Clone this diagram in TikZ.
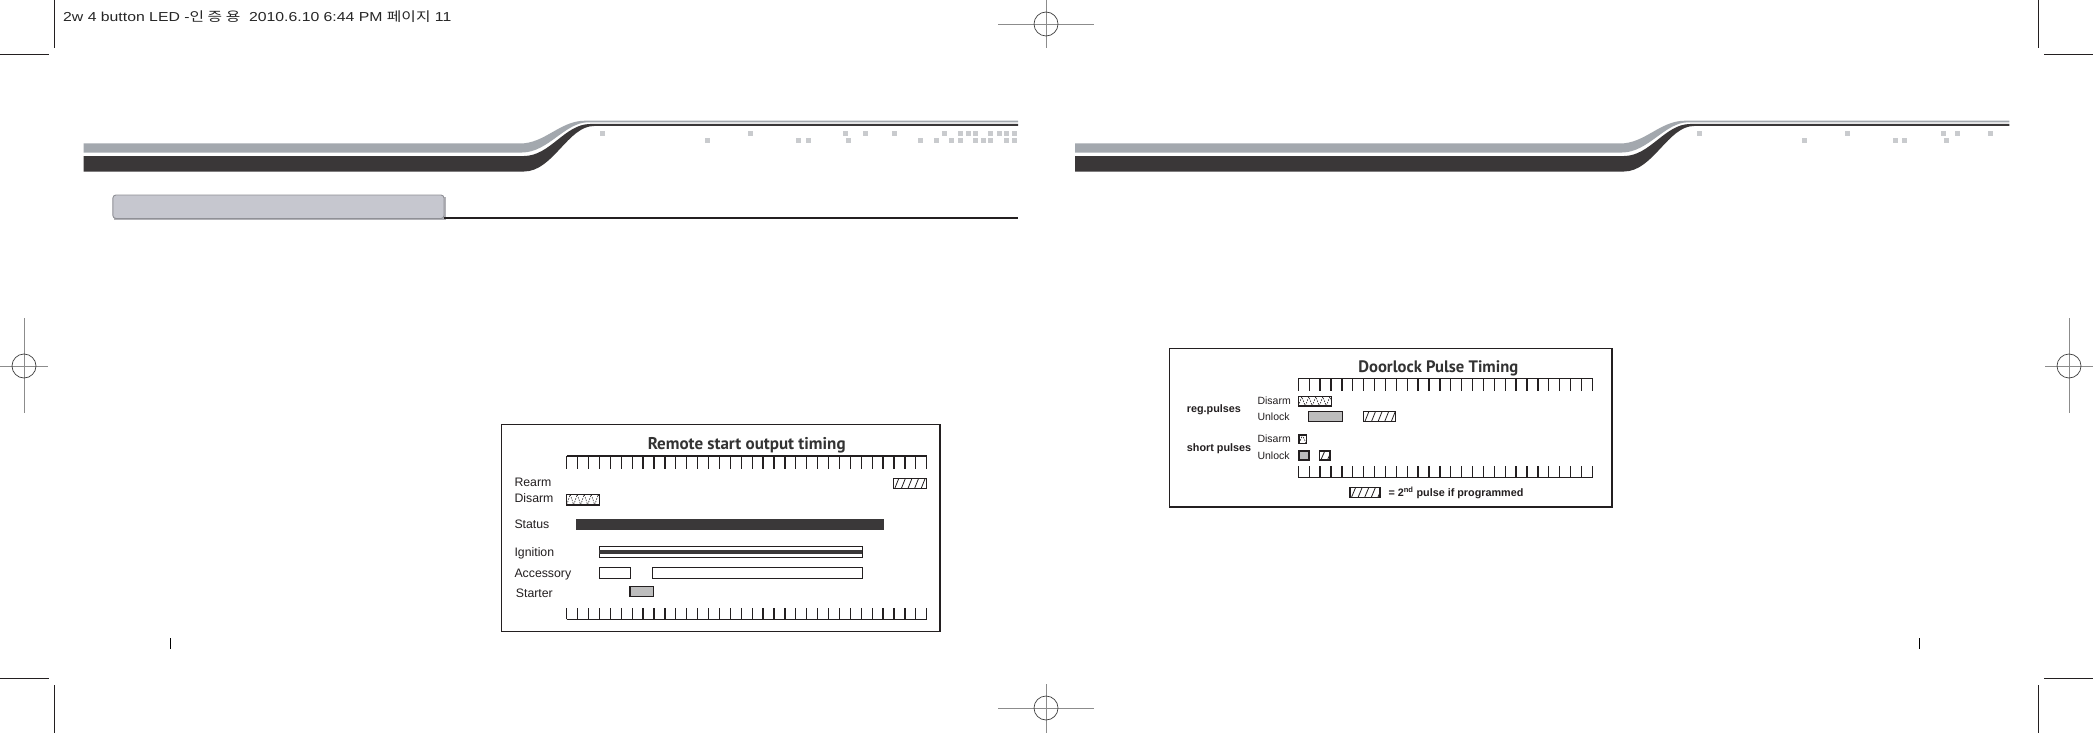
\documentclass[tikz,border=0pt]{standalone}
\usepackage{fontspec}
\setmainfont{Liberation Sans}
\newfontfamily\krfont{Noto Sans CJK KR}
\newfontfamily\ttlfont{PT Sans}
\usepackage{graphicx}
\definecolor{bandgray}{HTML}{A3A8AE}
\definecolor{banddark}{HTML}{3A3738}
\definecolor{sqgray}{HTML}{C9CBCE}
\definecolor{secfill}{HTML}{C6C7CF}
\definecolor{secedge}{HTML}{8F9096}
\definecolor{statusc}{HTML}{3A3839}
\definecolor{pulsegray}{HTML}{BDBDBD}
\definecolor{inkc}{HTML}{231F20}
\tikzset{
  cropline/.style={draw=inkc,line width=1.3pt},
  regline/.style={draw=black!45,line width=0.9pt},
  regcircle/.style={draw=black!75,line width=0.7pt},
  framebox/.style={draw=inkc,line width=1.2pt},
  tickline/.style={draw=inkc,line width=1.3pt},
  barline/.style={draw=inkc,line width=1.3pt},
  hatchline/.style={draw=inkc,line width=0.8pt},
  lbl/.style={anchor=base west,inner sep=0pt,text=inkc,font=\fontsize{12.3}{14}\selectfont},
  lblsm/.style={anchor=base west,inner sep=0pt,text=inkc,font=\fontsize{10.5}{12}\selectfont},
  lblbold/.style={anchor=base west,inner sep=0pt,text=inkc,font=\fontsize{10.8}{12}\selectfont\bfseries},
  ttl/.style={anchor=base,inner sep=0pt,text=black!80,font=\ttlfont\fontsize{17}{19}\selectfont\bfseries},
}
\newcommand\hatchbox[4]{%
  \begin{scope}
    \clip (#1,#2) rectangle (#3,#4);
    \foreach \k in {-1,...,6} {\draw[hatchline] ({#1+1.5+\k*6.6},#4) -- ({#1+5.5+\k*6.6},#2);}
  \end{scope}
  \draw[barline] (#1,#2) rectangle (#3,#4);}
\newcommand\dotsbox[4]{%
  \begin{scope}
    \clip (#1,#2) rectangle (#3,#4);
    \foreach \k in {-1,...,5} {
      \draw[hatchline,line width=0.6pt,dash pattern=on 1.6pt off 1.2pt] ({#1+\k*7},#4) -- ({#1+3.5+\k*7},#2) -- ({#1+7+\k*7},#4);}
  \end{scope}
  \draw[barline] (#1,#2) rectangle (#3,#4);}
\newcommand\rulertop[5]{%
  \draw[tickline] (#1,#3) -- (#2,#3);
  \foreach \i in {0,...,#5} {\draw[tickline] ({#1+\i*(#2-#1)/#5},#3) -- ({#1+\i*(#2-#1)/#5},#4);}}
\newcommand\headband[3]{%
  \fill[bandgray] (#1,143.5) -- ({520+#2},143.5) .. controls ({545+#2},143.5) and ({560+#2},120.7) .. ({585+#2},120.7)
     -- (#3,120.7) -- (#3,122.3) -- ({588+#2},122.3) .. controls ({565+#2},122.3) and ({548+#2},152.5) .. ({522+#2},152.5)
     -- (#1,152.5) -- cycle;
  \fill[banddark] (#1,156) -- ({524+#2},156) .. controls ({550+#2},156) and ({565+#2},124) .. ({590+#2},124)
     -- (#3,124) -- (#3,126) -- ({594+#2},126) .. controls ({568+#2},126) and ({553+#2},171.5) .. ({524+#2},171.5)
     -- (#1,171.5) -- cycle;}
\begin{document}
\begin{tikzpicture}[x=1pt,y=-1pt]
\useasboundingbox[fill=white] (0,0) rectangle (2093,733);

% crop marks
\draw[cropline] (54.7,0) -- (54.7,47.7);
\draw[cropline] (0,54.3) -- (49,54.3);
\draw[cropline] (2038.3,0) -- (2038.3,47.7);
\draw[cropline] (2044,54.3) -- (2093,54.3);
\draw[cropline] (54.7,685.3) -- (54.7,733);
\draw[cropline] (0,678.7) -- (49,678.7);
\draw[cropline] (2038.3,685.3) -- (2038.3,733);
\draw[cropline] (2044,678.7) -- (2093,678.7);

% registration marks
\draw[regline] (998,24) -- (1094,24) (1046,0) -- (1046,47.7);
\draw[regcircle] (1046,24) circle (12);
\draw[regline] (998,708) -- (1094,708) (1046,684) -- (1046,733);
\draw[regcircle] (1046,708) circle (12);
\draw[regline] (0,366) -- (48,366) (24,318) -- (24,413.3);
\draw[regcircle] (24,366) circle (12);
\draw[regline] (2045,366) -- (2093,366) (2069,318) -- (2069,413.3);
\draw[regcircle] (2069,366) circle (12);

% page marks
\draw[draw=black,line width=1.2pt] (170.7,638) -- (170.7,649);
\draw[draw=black,line width=1.2pt] (1919.5,638) -- (1919.5,649);

% header text
\node[anchor=base west,inner sep=0pt,text=black!85,font=\fontsize{13}{15}\selectfont] (hdr) at (63,21.7)
  {\scalebox{1.215}[1]{2w 4 button LED -{\krfont 인 증 용}\ \ 2010.6.10 6:44 PM {\krfont 페이지} 11}};

% header bands
\headband{83.6}{0}{1018}
\headband{1075}{1100}{2009.4}

% decorative squares, left page
\foreach \x in {600,748.3,843.3,863.3,892.3,942.3,957.7,965.7,973.3,988.3,996.7,1004.3,1011.7}
  {\fill[sqgray] (\x,131) rectangle ++(5,5);}
\foreach \x in {705,796,805.7,846,917.7,934.3,949.3,957.7,973.3,981,988.3,1004.3,1011.7}
  {\fill[sqgray] (\x,138) rectangle ++(5,5);}
% right page
\foreach \x in {1697,1845,1940.5,1955,1988.4}
  {\fill[sqgray] (\x,131) rectangle ++(5,5);}
\foreach \x in {1801.5,1892.7,1902.3,1943.7}
  {\fill[sqgray] (\x,138) rectangle ++(5,5);}

% section title box and rule
\fill[secedge!70] (114.4,196.5) rectangle (445.5,220);
\filldraw[fill=secfill,draw=secedge,line width=0.9pt,rounded corners=3pt] (112.9,195) rectangle (444,218.5);
\draw[draw=inkc,line width=1.2pt] (444,218) -- (1018,218);

% ===== Remote start output timing =====
\draw[framebox] (501.7,424.3) rectangle (940,631.7);
\node[ttl] (t1) at (746.7,449.3) {Remote start output timing};
\rulertop{566.7}{926.7}{456}{469.3}{33}
\rulertop{566.7}{926.7}{619.3}{607.7}{33}

\node[lbl] (rearm) at (514.3,486) {Rearm};
\node[lbl] (disarm) at (514.3,502.7) {Disarm};
\node[lbl] (status) at (514.3,528.3) {Status};
\node[lbl] (ign) at (514.3,556.5) {Ignition};
\node[lbl] (acc) at (514.3,577.7) {Accessory};
\node[lbl] (start) at (515.7,597) {Starter};

\hatchbox{893.3}{478.3}{926.7}{488.3}
\dotsbox{566.7}{494.3}{599.3}{505}
\fill[statusc] (576,519) rectangle (884.3,530);
\draw[barline] (599.3,546.3) rectangle (862.3,557.5);
\fill[statusc] (599.3,549.9) rectangle (862.3,554);
\draw[barline] (599.3,567.7) rectangle (630.3,578.3);
\draw[barline] (652.3,567.7) rectangle (862.3,578.3);
\filldraw[fill=pulsegray,draw=inkc,line width=1.3pt] (630,586.7) rectangle (653.3,596.7);

% ===== Doorlock Pulse Timing =====
\draw[framebox,line width=1.6pt] (1169.3,348.3) rectangle (1612,506.7);
\node[ttl,font=\ttlfont\fontsize{16.6}{19}\selectfont\bfseries] (t2) at (1438.3,372) {Doorlock Pulse Timing};
\rulertop{1298.3}{1592.3}{378.3}{391}{27}
\rulertop{1298.3}{1592.3}{477.7}{466}{27}

\node[lblbold] (reg) at (1186.7,412.7) {reg.pulses};
\node[lblbold] (short) at (1186.7,451) {short pulses};
\node[lblsm] (d1) at (1257.3,404) {Disarm};
\node[lblsm] (u1) at (1257.3,420.7) {Unlock};
\node[lblsm] (d2) at (1257.3,442.3) {Disarm};
\node[lblsm] (u2) at (1257.3,459) {Unlock};

\dotsbox{1298.3}{396.7}{1331.7}{406}
\filldraw[fill=pulsegray,draw=inkc,line width=1.3pt] (1308.3,411.7) rectangle (1342.7,421.7);
\hatchbox{1363.3}{411.7}{1395.7}{421.7}
\dotsbox{1299}{435}{1306.7}{443.3}
\filldraw[fill=pulsegray,draw=inkc,line width=1.3pt] (1299,451) rectangle (1309,460);
\hatchbox{1319.3}{451}{1330}{460}

\hatchbox{1350}{487.7}{1380}{497.3}
\node[lblbold,font=\fontsize{10.8}{12}\selectfont\bfseries] (legend) at (1388.3,496.5) {= 2\textsuperscript{nd} pulse if programmed};
\end{tikzpicture}
\end{document}
